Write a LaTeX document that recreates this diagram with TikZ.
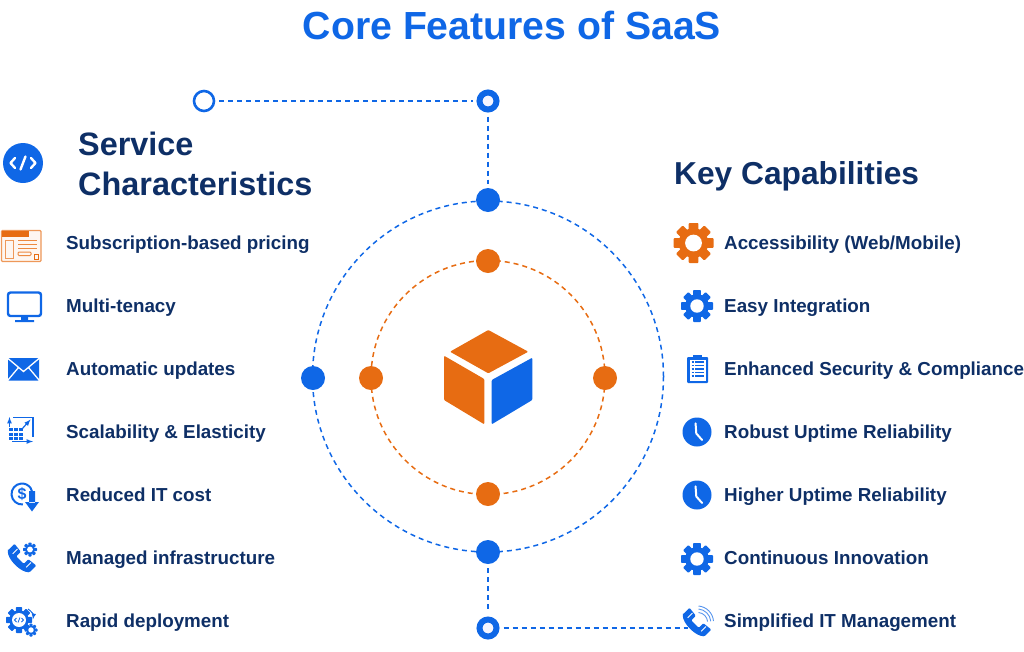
\documentclass[tikz,border=0pt]{standalone}
\usepackage{fontspec}
\setmainfont{Liberation Sans}
\definecolor{sblue}{HTML}{0F67E6}
\definecolor{sorange}{HTML}{E76C12}
\definecolor{snavy}{HTML}{0E2F66}
\tikzset{
  titlelabel/.style={anchor=base, inner sep=0pt, text=sblue, font=\fontsize{39.2}{39.2}\selectfont\bfseries},
  headlabel/.style={anchor=base west, inner sep=0pt, text=snavy, font=\fontsize{32.4}{32.4}\selectfont\bfseries},
  itemlabel/.style={anchor=base west, inner sep=0pt, text=snavy, font=\fontsize{18.8}{18.8}\selectfont\bfseries},
  bluering/.style={circle, draw=sblue, line width=1.5pt, dash pattern=on 5pt off 4pt, inner sep=0pt},
  orangering/.style={circle, draw=sorange, line width=1.5pt, dash pattern=on 5pt off 4pt, inner sep=0pt},
  bluedot/.style={circle, fill=sblue, minimum size=24pt, inner sep=0pt},
  orangedot/.style={circle, fill=sorange, minimum size=24pt, inner sep=0pt},
  openstop/.style={circle, draw=sblue, fill=white, line width=2.6pt, minimum size=20pt, inner sep=0pt},
  cornerstop/.style={circle, draw=sblue, fill=blue!4, line width=6pt, minimum size=17pt, inner sep=0pt},
  linkline/.style={sblue, line width=1.5pt, dash pattern=on 5pt off 4pt, shorten >=4pt, shorten <=4pt},
  gearicon/.pic={
    \fill[pic actions] (0,0) circle (.74);
    \foreach \a in {0,45,...,315}
      \fill[pic actions, rotate=\a, rounded corners=.8pt] (-.24,-1) rectangle (.24,-.6);
    \fill[white] (0,0) circle (.42);
  },
  clockicon/.pic={
    \fill[sblue] (0,0) circle (1);
    \draw[white, line width=2pt, line cap=round] (-.1,-.6) -- (-.05,.1) -- (.35,.55);
  },
  phoneicon/.pic={
    \fill[pic actions, rounded corners=1pt] (-.95,-.5) -- (-.5,-.95) -- (-.08,-.42) -- (-.38,-.12)
      .. controls (-.2,.12) .. (.12,.38) -- (.42,.08) -- (.95,.5) -- (.5,.95)
      .. controls (-.1,.95) and (-.95,.1) .. cycle;
    \draw[white, line width=.9pt] (-.62,-.28) -- (-.3,-.6) (.28,.62) -- (.6,.3);
  },
}
\begin{document}
\begin{tikzpicture}[x=1pt, y=-1pt]
  \useasboundingbox (0,0) rectangle (1024,651);

  \node[titlelabel] (title) at (512,39) {Core Features of SaaS};
  \node[headlabel] (servicehead) at (78,155) {Service};
  \node[headlabel] (charhead) at (78,195) {Characteristics};
  \node[headlabel, font=\fontsize{31.7}{31.7}\selectfont\bfseries] (keyhead) at (674,184) {Key Capabilities};

  % rings and their dots
  \node[bluering, minimum size=351pt] (outerring) at (488,376.5) {};
  \node[orangering, minimum size=234pt] (innerring) at (488,377.5) {};
  \node[bluedot] (outertop) at (488,200) {};
  \node[bluedot] (outerbottom) at (488,552) {};
  \node[bluedot] (outerleft) at (313,378) {};
  \node[orangedot] (innertop) at (488,261) {};
  \node[orangedot] (innerbottom) at (488,494) {};
  \node[orangedot] (innerleft) at (371,378) {};
  \node[orangedot] (innerright) at (605,378) {};

  % links
  \node[openstop] (topstart) at (204,101) {};
  \node[cornerstop] (topcorner) at (488,101) {};
  \node[cornerstop] (bottomcorner) at (488,628) {};
  \coordinate (phoneend) at (692,628);
  \draw[linkline] (topstart) -- (topcorner);
  \draw[linkline] (topcorner) -- (outertop);
  \draw[linkline] (outerbottom) -- (bottomcorner);
  \draw[linkline] (bottomcorner) -- (phoneend);

  % cube
  \fill[sorange, rounded corners=1pt] (488.3,330) -- (528.3,351.7) -- (488.3,373.3) -- (450,351.7) -- cycle;
  \fill[sorange, rounded corners=1pt] (444,355.7) -- (484.3,379) -- (484.3,424.3) -- (444,400) -- cycle;
  \fill[sblue, rounded corners=1pt] (532.3,357.7) -- (532.3,400) -- (491.7,424.3) -- (491.7,380) -- cycle;

  % left labels
  \node[itemlabel] (subscription) at (66,249.5) {Subscription-based pricing};
  \node[itemlabel] (tenancy) at (66,312.5) {Multi-tenacy};
  \node[itemlabel] (updates) at (66,375.5) {Automatic updates};
  \node[itemlabel] (scalability) at (66,438.5) {Scalability \& Elasticity};
  \node[itemlabel] (itcost) at (66,501.5) {Reduced IT cost};
  \node[itemlabel] (managed) at (66,564.5) {Managed infrastructure};
  \node[itemlabel] (rapid) at (66,627.5) {Rapid deployment};

  % right labels
  \node[itemlabel] (access) at (724,249.5) {Accessibility (Web/Mobile)};
  \node[itemlabel] (integration) at (724,312.5) {Easy Integration};
  \node[itemlabel] (security) at (724,375.5) {Enhanced Security \& Compliance};
  \node[itemlabel] (robust) at (724,438.5) {Robust Uptime Reliability};
  \node[itemlabel] (higher) at (724,501.5) {Higher Uptime Reliability};
  \node[itemlabel] (innovation) at (724,564.5) {Continuous Innovation};
  \node[itemlabel] (itmanage) at (724,627.5) {Simplified IT Management};

  % code badge
  \fill[sblue] (23,163) circle (20);
  \draw[white, line width=2.4pt, line join=round, line cap=round]
    (15,158) -- (10.5,163) -- (15,168) (31,158) -- (35.5,163) -- (31,168) (25.5,156.5) -- (20.5,169.5);

  % browser
  \draw[sorange!70, fill=sorange!6, line width=1.2pt, rounded corners=1pt] (1.5,230.5) rectangle (41,261.5);
  \fill[sorange] (1.5,230.5) rectangle (29,237);
  \draw[sorange!70, line width=1pt] (5.5,240) rectangle (13,258.5);
  \draw[sorange!80, line width=1pt] (18,240) -- (37,240) (18,244) -- (37,244) (18,248) -- (37,248);
  \draw[sorange!80, line width=1pt, rounded corners=1pt] (18,252) rectangle (31,255.5);
  \draw[sorange, line width=1pt] (34,254) rectangle (38,259);

  % monitor
  \draw[sblue, line width=2.4pt, rounded corners=2.5pt] (8,292.5) rectangle (41,316);
  \fill[sblue] (21,316) rectangle (28,320) (15,320) rectangle (34,322);

  % mail
  \fill[sblue, rounded corners=1pt] (8,358) rectangle (39,380.5);
  \draw[white, line width=1.3pt] (8,358.5) -- (23.5,371.5) -- (39,358.5) (8,380) -- (18.5,367.5) (39,380) -- (28.5,367.5);

  % scaling
  \draw[sblue, line width=1.2pt] (13,417.5) -- (33,417.5) -- (33,437);
  \draw[sblue, line width=1.2pt, -latex] (9.5,427) -- (9.5,417);
  \draw[sblue, line width=1.2pt, -latex] (12,441.5) -- (33,441.5);
  \draw[sblue, line width=1.2pt, -latex] (22,429) -- (30.5,419.5);
  \foreach \gx in {9,14,19}
    \foreach \gy in {428,432.5,437}
      \fill[sblue] (\gx,\gy) rectangle +(4.2,3.4);

  % reduced cost
  \draw[sblue, line width=2pt] (22,494) ++(85:10.5) arc[start angle=85, end angle=375, radius=10.5];
  \node[inner sep=0pt, text=sblue, font=\fontsize{16}{16}\selectfont\bfseries] (dollar) at (22,494) {\$};
  \fill[sblue] (29,491) rectangle (35,503) (25,502) -- (39,502) -- (32,511.5) -- cycle;

  % managed icon
  \pic[fill=sblue, scale=15] (managedphone) at (22,558) {phoneicon};
  \pic[fill=sblue, scale=7] (managedgear) at (30,549.5) {gearicon};

  % rapid icon
  \pic[fill=sblue, scale=13] (rapidgear) at (19,620) {gearicon};
  \fill[white] (19,620) circle (7);
  \draw[sblue, line width=.8pt] (16.5,618) -- (14.5,620) -- (16.5,622) (21.5,618) -- (23.5,620) -- (21.5,622) (20,617.5) -- (18,622.5);
  \pic[fill=sblue, scale=6.5] (rapidsmall) at (31,630) {gearicon};
  \draw[sblue, line width=1pt, -latex] (28,609) arc[start angle=-60, end angle=10, radius=10];

  % right icons
  \pic[fill=sorange, scale=20] (accessgear) at (693.5,243) {gearicon};
  \pic[fill=sblue, scale=16] (easygear) at (697,306) {gearicon};
  \pic[fill=sblue, scale=16] (innovationgear) at (697,559) {gearicon};
  \pic[scale=14.5] (robustclock) at (697,432) {clockicon};
  \pic[scale=14.5] (higherclock) at (697,495) {clockicon};

  % clipboard
  \fill[sblue, rounded corners=1pt] (687,357) rectangle (708,383);
  \fill[sblue] (693,355) rectangle (702,358);
  \fill[white] (689.5,359.5) rectangle (705.5,380.5);
  \foreach \ly in {362,365.5,369,372.5,376}
    \draw[sblue, line width=1.3pt] (691.5,\ly) -- (693.5,\ly) (695,\ly) -- (704,\ly);

  % phone with waves
  \pic[fill=sblue, scale=15] (itphone) at (697,622) {phoneicon};
  \draw[sblue!70, line width=.9pt] (698.5,612.5) arc[start angle=-85, end angle=-5, radius=10]
    (698.5,609) arc[start angle=-85, end angle=-5, radius=13.5]
    (698.5,606) arc[start angle=-85, end angle=-5, radius=16.5];
\end{tikzpicture}
\end{document}
